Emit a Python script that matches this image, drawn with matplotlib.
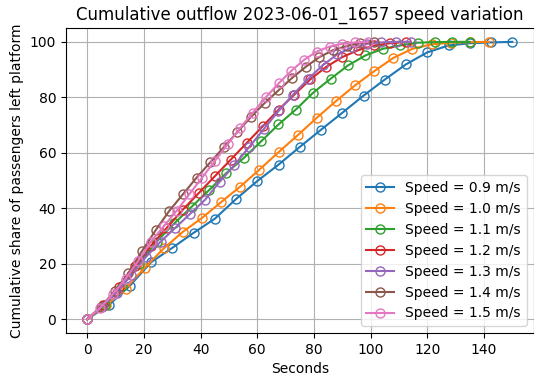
import numpy as np
import matplotlib
matplotlib.use("Agg")
import matplotlib.pyplot as plt

speeds = [0.9, 1.0, 1.1, 1.2, 1.3, 1.4, 1.5]
# sampling step (seconds) for each series
steps = [7.5, 6.75, 6.136, 5.625, 5.19, 4.82, 4.5]

share_09 = [0, 5, 12, 20.5, 25.7, 31.1, 36.2, 43.3, 49.8, 55.7, 62.1, 68.3, 74.4,
            80.6, 86.4, 91.9, 96.2, 98.7, 99.5, 99.8, 100]
share_10 = [0, 5, 11, 18.5, 25.5, 31.5, 36.5, 42.2, 47.8, 53.9, 60.2, 66.3, 72.6,
            78.6, 84.3, 89.4, 94.2, 97.5, 99.1, 99.7, 99.9, 100]
share_11 = [0, 5, 12, 20, 28, 34.5, 40.5, 46.5, 52.7, 58.1, 64.1, 70.2, 75.6,
            81.7, 86.7, 91.5, 95.1, 97.5, 98.7, 99.7, 99.9, 100, 100]
share_12 = [0, 5, 11.5, 19, 26.5, 33, 39.5, 45.5, 51.5, 57.5, 63.5, 69.5, 75.5,
            81, 86.5, 91, 94.5, 97, 98.7, 99.5, 100]
share_13 = [0, 4.5, 9.5, 16, 22.5, 28, 33, 38, 43, 49.5, 55.5, 62, 68.5, 75, 81,
            86.5, 91.5, 95.5, 98, 99.3, 99.8, 100, 100]
share_14 = [0, 4.5, 10, 16.5, 24.5, 32, 39, 45, 51, 56.5, 62, 67.5, 73, 78, 82.5,
            87, 91, 94.5, 97, 98.5, 99.5, 100]
share_15 = [0, 4, 9, 14.5, 21, 28, 33.5, 39, 45, 51, 57, 63, 69, 74.5, 80, 85,
            89.5, 93.5, 96.5, 98.3, 99.3, 99.8, 100]

shares = [share_09, share_10, share_11, share_12, share_13, share_14, share_15]
labels = [f"Speed = {s} m/s" for s in speeds]

fig = plt.figure(figsize=(5.34, 3.78), dpi=100)
ax = fig.add_axes([66/534, 1-333/378, (533.5-66)/534, (333-28)/378])

for lab, dt, y in zip(labels, steps, shares):
    t = np.arange(len(y)) * dt
    ax.plot(t, y, marker='o', markerfacecolor='none', markersize=6.5,
            linewidth=1.5, label=lab)

ax.set_title("Cumulative outflow 2023-06-01_1657 speed variation", fontsize=12)
ax.set_xlabel("Seconds")
ax.set_ylabel("Cumulative share of passengers left platform")
ax.set_xticks(np.arange(0, 141, 20))
ax.set_yticks(np.arange(0, 101, 20))
ax.grid(True)
ax.legend(loc='lower right')

fig.savefig("out.png", dpi=100)
